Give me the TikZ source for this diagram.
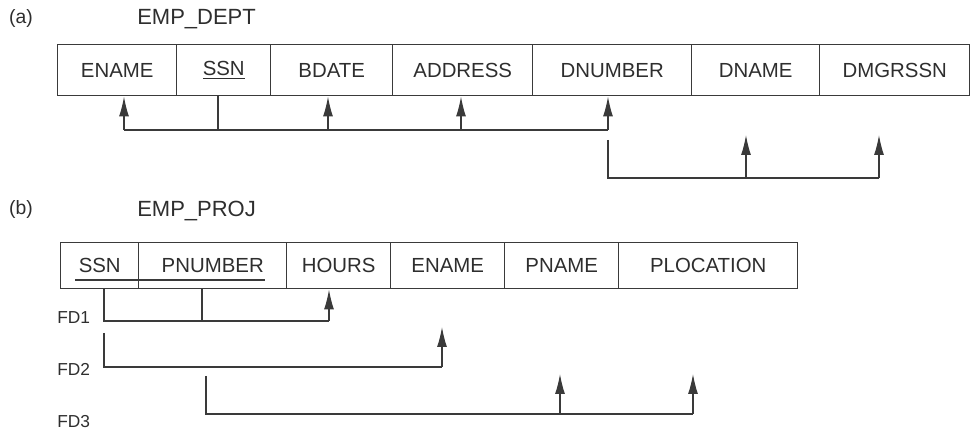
\documentclass[tikz,border=0pt]{standalone}
\usepackage{fontspec}
\setmainfont{Liberation Sans}
\usetikzlibrary{arrows.meta}
\definecolor{ink}{HTML}{2E2E2E}
\definecolor{edge}{HTML}{3A3A3A}
\tikzset{
  cell/.style={draw=edge, line width=1.1pt, anchor=north west, inner sep=0pt,
    text=ink, font=\fontsize{15.3pt}{17pt}\selectfont},
  title/.style={text=ink, font=\fontsize{16.5pt}{18pt}\selectfont, inner sep=0pt},
  tag/.style={text=ink, font=\fontsize{14.5pt}{16pt}\selectfont, inner sep=0pt},
  fdlabel/.style={text=ink, font=\fontsize{13pt}{15pt}\selectfont, inner sep=0pt, anchor=west},
  conn/.style={draw=edge, line width=0.95pt},
  arr/.style={conn, -{Latex[length=15pt,width=7.5pt]}},
}
\begin{document}
\begin{tikzpicture}[x=0.75pt, y=-0.75pt]
\useasboundingbox (0,0) rectangle (976,438);

% ---------- (a) ----------
\node[tag] (la) at (21,19) {(a)};
\node[title, anchor=west] (ta) at (137,19) {EMP\_DEPT};

\node[cell, minimum width=119*0.75pt, minimum height=51*0.75pt] (a1) at (57,44) {ENAME};
\node[cell, minimum width=94*0.75pt,  minimum height=51*0.75pt] (a2) at (176,44) {\underline{SSN}};
\node[cell, minimum width=122*0.75pt, minimum height=51*0.75pt] (a3) at (270,44) {BDATE};
\node[cell, minimum width=140*0.75pt, minimum height=51*0.75pt] (a4) at (392,44) {ADDRESS};
\node[cell, minimum width=159*0.75pt, minimum height=51*0.75pt] (a5) at (532,44) {DNUMBER};
\node[cell, minimum width=128*0.75pt, minimum height=51*0.75pt] (a6) at (691,44) {DNAME};
\node[cell, minimum width=150*0.75pt, minimum height=51*0.75pt] (a7) at (819,44) {DMGRSSN};

\coordinate (p1) at (124,130);
\coordinate (p2) at (218,130);
\coordinate (p3) at (328,130);
\coordinate (p4) at (461,130);
\coordinate (p5) at (608,130);
\draw[conn] (p1) -- (p5);
\draw[conn] (p2) -- (p2 |- a2.south);
\draw[arr] (p1) -- (p1 |- a1.south);
\draw[arr] (p3) -- (p3 |- a3.south);
\draw[arr] (p4) -- (p4 |- a4.south);
\draw[arr] (p5) -- (p5 |- a5.south);

\coordinate (q0) at (608,140);
\coordinate (q1) at (608,178);
\coordinate (q2) at (746,178);
\coordinate (q3) at (879,178);
\coordinate (q2t) at (746,135);
\coordinate (q3t) at (879,135);
\draw[conn] (q0) -- (q1) -- (q3);
\draw[arr] (q2) -- (q2t);
\draw[arr] (q3) -- (q3t);

% ---------- (b) ----------
\node[tag] (lb) at (21,209) {(b)};
\node[title, anchor=west] (tb) at (137,211) {EMP\_PROJ};

\node[cell, minimum width=78*0.75pt,  minimum height=46*0.75pt] (b1) at (60,242) {SSN};
\node[cell, minimum width=148*0.75pt, minimum height=46*0.75pt] (b2) at (138,242) {PNUMBER};
\node[cell, minimum width=104*0.75pt, minimum height=46*0.75pt] (b3) at (286,242) {HOURS};
\node[cell, minimum width=114*0.75pt, minimum height=46*0.75pt] (b4) at (390,242) {ENAME};
\node[cell, minimum width=114*0.75pt, minimum height=46*0.75pt] (b5) at (504,242) {PNAME};
\node[cell, minimum width=179*0.75pt, minimum height=46*0.75pt] (b6) at (618,242) {PLOCATION};
\coordinate (u0) at (75,280);
\coordinate (u1) at (265,280);
\draw[conn] (u0) -- (u1);

\node[fdlabel] (fd1) at (57,318) {FD1};
\node[fdlabel] (fd2) at (57,369) {FD2};
\node[fdlabel] (fd3) at (57,422) {FD3};

% FD1
\coordinate (r1) at (104,321);
\coordinate (r2) at (202,321);
\coordinate (r3) at (329,321);
\draw[conn] (r1 |- b1.south) -- (r1) -- (r3);
\draw[conn] (r2 |- b2.south) -- (r2);
\draw[arr] (r3) -- (r3 |- b3.south);

% FD2
\coordinate (s0) at (104,333);
\coordinate (s1) at (104,367);
\coordinate (s2) at (442,367);
\coordinate (s2t) at (442,327);
\draw[conn] (s0) -- (s1) -- (s2);
\draw[arr] (s2) -- (s2t);

% FD3
\coordinate (t0) at (206,376);
\coordinate (t1) at (206,414);
\coordinate (t2) at (560,414);
\coordinate (t3) at (693,414);
\coordinate (t2t) at (560,374);
\coordinate (t3t) at (693,374);
\draw[conn] (t0) -- (t1) -- (t3);
\draw[arr] (t2) -- (t2t);
\draw[arr] (t3) -- (t3t);
\end{tikzpicture}
\end{document}
